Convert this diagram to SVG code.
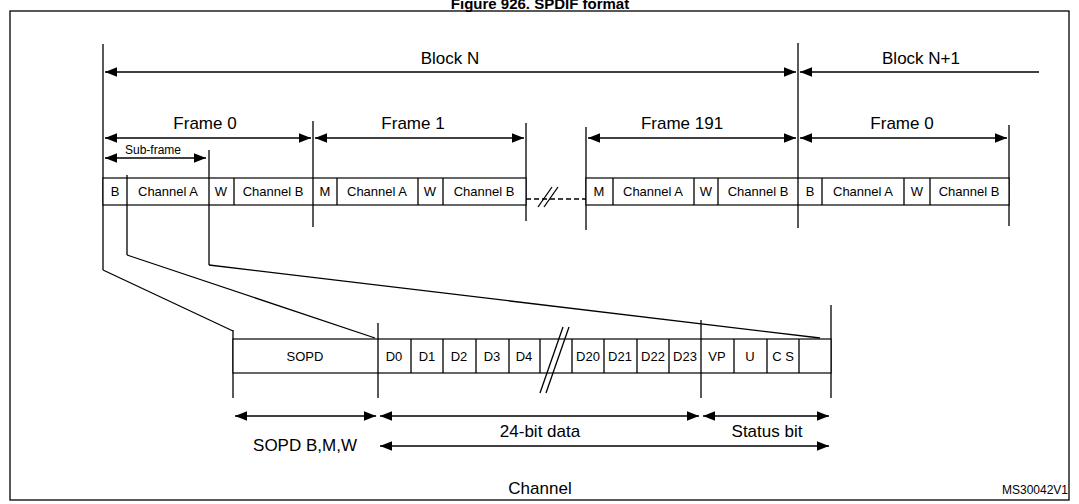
<svg xmlns="http://www.w3.org/2000/svg" width="1079" height="504" viewBox="0 0 1079 504">
<style>
text{font-family:"Liberation Sans",Arial,sans-serif;fill:#000;text-anchor:middle}
.l{fill:none;stroke:#000;stroke-width:1.3}
.c{fill:#fff;stroke:#000;stroke-width:1.2}
.big{font-size:17px}.sm{font-size:13px}.xs{font-size:12px}
</style>
<defs>
<marker id="a" viewBox="0 0 10 10" refX="10" refY="5" markerWidth="12" markerHeight="12" markerUnits="userSpaceOnUse" orient="auto-start-reverse"><path d="M0,1L10,5L0,9z" fill="#000"/></marker>
</defs>
<rect width="1079" height="504" fill="#fff"/>
<text x="540" y="9" style="font-weight:bold;font-size:15px">Figure 926. SPDIF format</text>
<rect x="10" y="11" width="1059" height="489" class="l" stroke-width="1.5"/>
<g id="connectors">
<line class="l" x1="103" y1="44" x2="103" y2="270"/>
<line class="l" x1="798" y1="43" x2="798" y2="228"/>
<line class="l" x1="313" y1="121" x2="313" y2="227"/>
<line class="l" x1="526" y1="123" x2="526" y2="221"/>
<line class="l" x1="586" y1="127" x2="586" y2="230"/>
<line class="l" x1="1009" y1="125" x2="1009" y2="226"/>
<line class="l" x1="209" y1="150" x2="209" y2="265"/>
<line class="l" x1="127" y1="175" x2="127" y2="255"/>
<line class="l" x1="105" y1="72" x2="796" y2="72" marker-start="url(#a)" marker-end="url(#a)"/>
<line class="l" x1="800" y1="72" x2="1039" y2="72" marker-start="url(#a)"/>
<line class="l" x1="105" y1="138" x2="311" y2="138" marker-start="url(#a)" marker-end="url(#a)"/>
<line class="l" x1="315" y1="138" x2="524" y2="138" marker-start="url(#a)" marker-end="url(#a)"/>
<line class="l" x1="588" y1="138" x2="796" y2="138" marker-start="url(#a)" marker-end="url(#a)"/>
<line class="l" x1="800" y1="138" x2="1007" y2="138" marker-start="url(#a)" marker-end="url(#a)"/>
<line class="l" x1="105" y1="158" x2="206" y2="158" marker-start="url(#a)" marker-end="url(#a)"/>
<line class="l" x1="526" y1="199" x2="586" y2="199" stroke-dasharray="5,3"/>
<line class="l" x1="538" y1="207" x2="552" y2="187"/>
<line class="l" x1="544" y1="207" x2="558" y2="187"/>
<polyline class="l" points="103,270 233,331"/>
<polyline class="l" points="127,255 375,338"/>
<polyline class="l" points="209,265 820,338"/>
<line class="l" x1="233" y1="330" x2="233" y2="398"/>
<line class="l" x1="378" y1="323" x2="378" y2="398"/>
<line class="l" x1="701" y1="320" x2="701" y2="398"/>
<line class="l" x1="831" y1="305" x2="831" y2="398"/>
<line class="l" x1="235" y1="416" x2="376" y2="416" marker-start="url(#a)" marker-end="url(#a)"/>
<line class="l" x1="380" y1="416" x2="699" y2="416" marker-start="url(#a)" marker-end="url(#a)"/>
<line class="l" x1="703" y1="416" x2="829" y2="416" marker-start="url(#a)" marker-end="url(#a)"/>
<line class="l" x1="380" y1="446" x2="829" y2="446" marker-start="url(#a)" marker-end="url(#a)"/>
</g>
<g id="labels">
<text class="big" x="450" y="64">Block N</text>
<text class="big" x="921" y="64">Block N+1</text>
<text class="big" x="205" y="129">Frame 0</text>
<text class="big" x="413" y="129">Frame 1</text>
<text class="big" x="682" y="129">Frame 191</text>
<text class="big" x="902" y="129">Frame 0</text>
<text class="xs" x="153" y="154">Sub-frame</text>
<text class="big" x="305" y="451">SOPD B,M,W</text>
<text class="big" x="540" y="437">24-bit data</text>
<text class="big" x="767" y="437">Status bit</text>
<text class="big" x="540" y="494">Channel</text>
<text class="xs" x="1035" y="494">MS30042V1</text>
</g>
<g id="row1" class="sm">
<rect class="c" x="103" y="178" width="423" height="27"/>
<rect class="c" x="586" y="178" width="423" height="27"/>
<path class="l" d="M127,178v27M209,178v27M234,178v27M337,178v27M418,178v27M443,178v27M613,178v27M694,178v27M718,178v27M822,178v27M904,178v27M930,178v27M313,178v27M798,178v27"/>
<text x="115" y="196">B</text><text x="168" y="196">Channel A</text><text x="221" y="196">W</text><text x="273" y="196">Channel B</text>
<text x="325" y="196">M</text><text x="377" y="196">Channel A</text><text x="430" y="196">W</text><text x="484" y="196">Channel B</text>
<text x="599" y="196">M</text><text x="653" y="196">Channel A</text><text x="706" y="196">W</text><text x="758" y="196">Channel B</text>
<text x="810" y="196">B</text><text x="863" y="196">Channel A</text><text x="917" y="196">W</text><text x="969" y="196">Channel B</text>
</g>
<g id="channel" class="sm">
<rect class="c" x="233" y="339" width="598" height="34"/>
<path class="l" d="M378,339v34M411,339v34M443,339v34M476,339v34M509,339v34M540,339v34M572,339v34M604,339v34M637,339v34M669,339v34M701,339v34M734,339v34M767,339v34M799,339v34"/>
<line class="l" x1="540" y1="393" x2="563" y2="327"/>
<line class="l" x1="546" y1="393" x2="569" y2="327"/>
<text x="305" y="361">SOPD</text>
<text x="394" y="361">D0</text><text x="427" y="361">D1</text><text x="459" y="361">D2</text><text x="492" y="361">D3</text><text x="524" y="361">D4</text>
<text x="588" y="361">D20</text><text x="620" y="361">D21</text><text x="653" y="361">D22</text><text x="685" y="361">D23</text>
<text x="717" y="361">VP</text><text x="750" y="361">U</text><text x="783" y="361">C S</text>
</g>
</svg>
